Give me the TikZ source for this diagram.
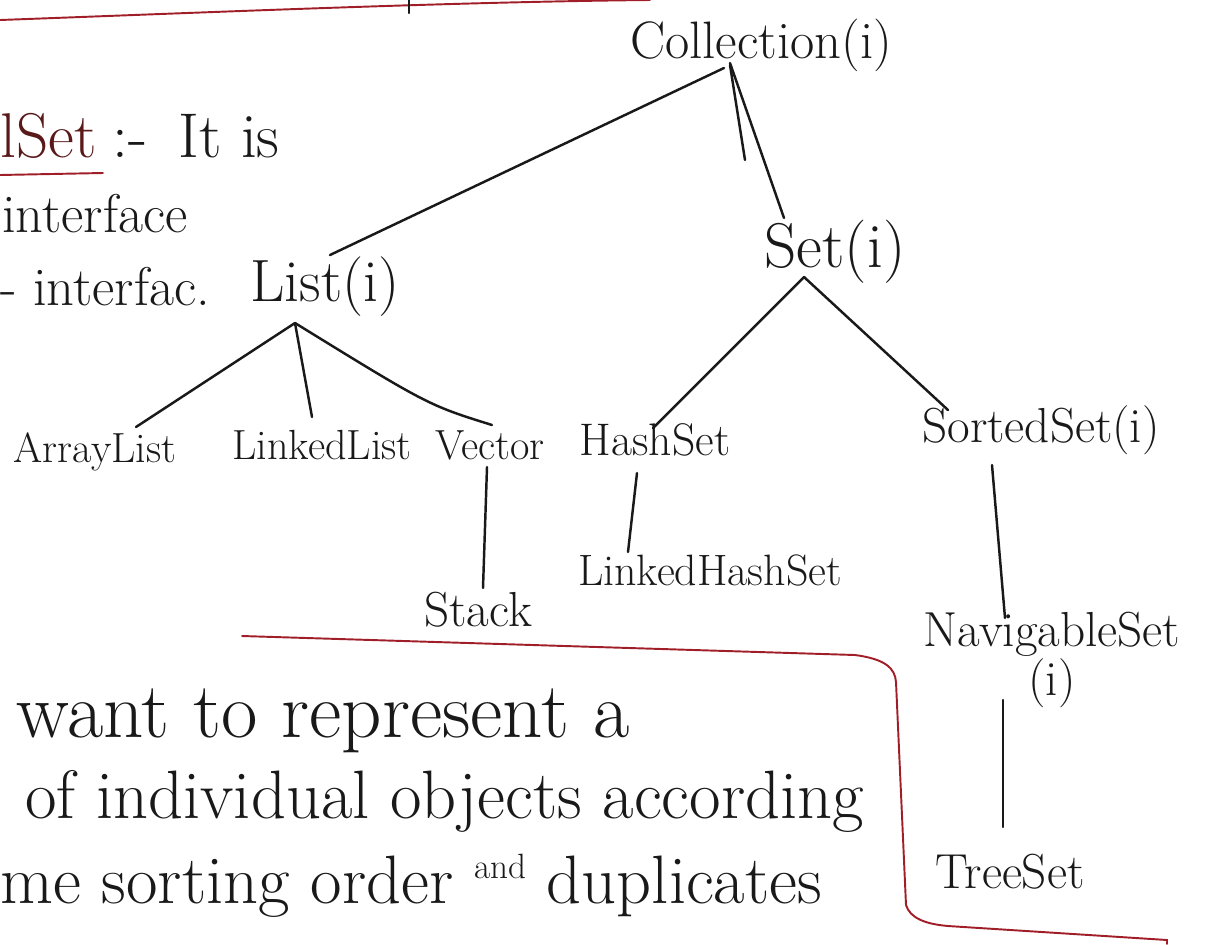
\documentclass[tikz,border=0pt]{standalone}
\usepackage{tikz}
\usetikzlibrary{calc}
\definecolor{ink}{RGB}{25,25,25}
\definecolor{redink}{RGB}{160,30,40}
\definecolor{setink}{RGB}{90,25,25}
\tikzset{clstext/.style={inner sep=0pt, text=ink, align=center},
         link/.style={draw=ink, line width=1.4pt, line cap=round},
         redline/.style={draw=redink, line width=1.1pt, line cap=round}}
\newcommand{\clsnode}[5]{\node[clstext, font=\fontsize{#5}{#5}\selectfont] (#1) at ( #2 , #3 ) {#4};}
\newcommand{\notenode}[5]{\node[clstext, anchor=base west, font=\fontsize{#5}{#5}\selectfont] (#1) at ( #2 , #3 ) {#4};}

\begin{document}
\begin{tikzpicture}[x=0.02cm,y=-0.02cm]
        \useasboundingbox (0,0) rectangle (1207,944);
        % red rules
        \draw[redline] (0,20) .. controls (220,12) and (450,2) .. (650,0);
        \draw[link] (409,0) -- (409,13);
        \draw[redline] (242,636) -- (855,655) .. controls (885,659) and (895,668) .. (896,682) -- (906,905) .. controls (910,918) and (925,924) .. (948,926) -- (1167,940) -- (1167,944);
        % notes on the left
        \notenode{hdword}{0}{157}{\textcolor{setink}{lSet}}{36}
        \notenode{hdrest}{112}{157}{:-\enspace It is}{36}
        \draw[redline] ($(hdword.base west)+(0,18)$) -- ($(hdword.base east)+(6,16)$);
        \notenode{intf}{2}{232}{interface}{31}
        \notenode{intfb}{0}{305}{- interfac.}{31}
        % level 0 and 1
        \clsnode{coll}{761}{45}{Collection(i)}{30}
        \clsnode{list}{325}{287}{List(i)}{34}
        \clsnode{set}{835}{252}{Set(i)}{36}
        % level 2
        \clsnode{arrl}{95}{452}{ArrayList}{24}
        \clsnode{lnkl}{322}{445}{LinkedList}{24}
        \clsnode{vec}{490}{445}{Vector}{24}
        \clsnode{hset}{655}{440}{HashSet}{26}
        \clsnode{sset}{1041}{430}{SortedSet(i)}{28}
        % level 3 and 4
        \clsnode{stk}{478}{610}{Stack}{28}
        \clsnode{lhs}{710}{570}{LinkedHashSet}{25}
        \clsnode{nav}{1052}{660}{NavigableSet\\(i)}{28}
        \clsnode{tree}{1010}{872}{TreeSet}{28}
        % Collection
        \draw[link] ($(coll)+(-37,23)$) -- ($(list)+(5,-32)$);
        \draw[link] ($(coll)+(-31,18)$) -- ($(set)+(-51,-34)$);
        \coordinate (cstub) at (745,160);
        \draw[link] ($(coll)+(-31,20)$) -- (cstub);
        % List
        \draw[link] ($(list)+(-30,36)$) -- ($(arrl)+(41,-25)$);
        \draw[link] ($(list)+(-30,36)$) -- ($(lnkl)+(-10,-28)$);
        \draw[link] ($(list)+(-30,36)$) .. controls ($(vec)+(-62,-40)$) .. ($(vec)+(2,-20)$);
        % Set
        \draw[link] ($(set)+(-31,25)$) -- ($(hset)+(-2,-12)$);
        \draw[link] ($(set)+(-31,25)$) -- ($(sset)+(-93,-20)$);
        % lower levels
        \draw[link] ($(vec)+(-3,22)$) -- ($(stk)+(5,-22)$);
        \draw[link] ($(hset)+(-18,33)$) -- ($(lhs)+(-82,-18)$);
        \draw[link] ($(sset)+(-49,35)$) -- ($(nav)+(-47,-42)$);
        \draw[link] ($(nav)+(-49,40)$) -- ($(tree)+(-7,-45)$);
        % text in the box
        \notenode{ln1}{16}{737}{want to represent a}{45}
        \notenode{ln2}{25}{818}{of individual objects according}{39}
        \notenode{ln3}{0}{903}{me sorting order {\fontsize{20}{20}\selectfont\raisebox{0.7em}{and}} duplicates}{39}
\end{tikzpicture}
\end{document}
